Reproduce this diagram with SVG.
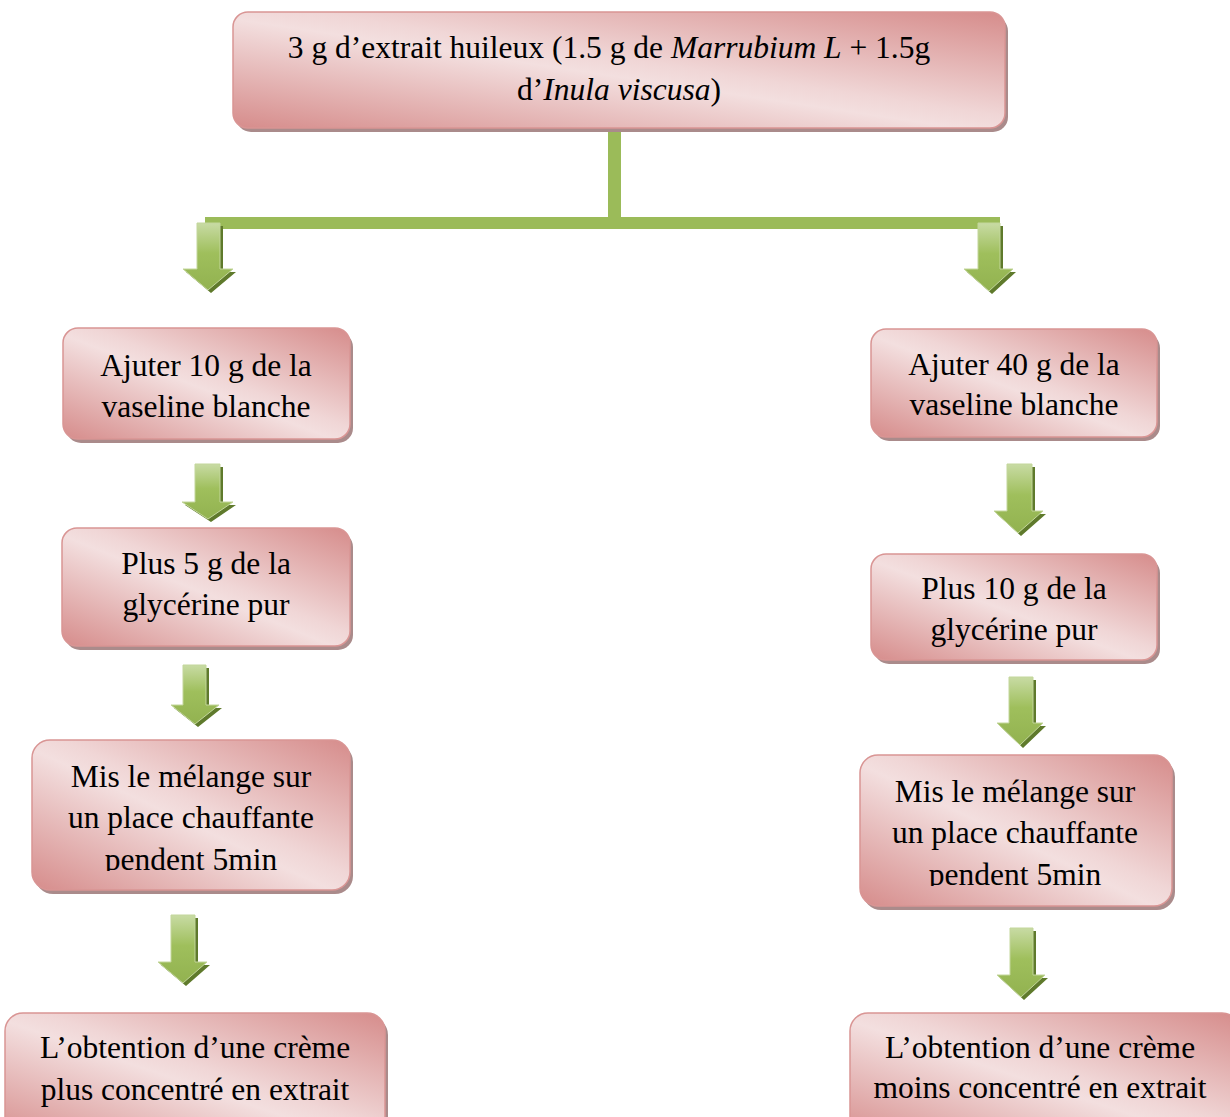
<svg xmlns="http://www.w3.org/2000/svg" width="1230" height="1117" viewBox="0 0 1230 1117">
<defs>
<linearGradient id="boxg" x1="0" y1="1" x2="1" y2="0">
<stop offset="0" stop-color="#d68c8b"/>
<stop offset="0.47" stop-color="#f3dfdf"/>
<stop offset="0.55" stop-color="#f0d6d6"/>
<stop offset="1" stop-color="#d68c8b"/>
</linearGradient>
<linearGradient id="arrg" x1="0" y1="0" x2="0" y2="1">
<stop offset="0" stop-color="#c8dba4"/>
<stop offset="0.45" stop-color="#9fbf5c"/>
<stop offset="1" stop-color="#92b250"/>
</linearGradient>
<linearGradient id="shaftg" x1="0" y1="0" x2="1" y2="0">
<stop offset="0" stop-color="#ffffff" stop-opacity="0.25"/>
<stop offset="0.5" stop-color="#ffffff" stop-opacity="0"/>
<stop offset="1" stop-color="#000000" stop-opacity="0.05"/>
</linearGradient>
<clipPath id="clipL3"><rect x="20" y="730" width="340" height="141"/></clipPath>
<clipPath id="clipR3"><rect x="850" y="745" width="330" height="141"/></clipPath>
</defs>
<style>
.box{fill:url(#boxg);stroke:#d99594;stroke-width:1.5}
.shadow{fill:#aa8b8b}
.t{font-family:"Liberation Serif","Times New Roman",serif;font-size:31.5px;fill:#000;text-anchor:middle}
.it{font-style:italic}
.arr{fill:url(#arrg);stroke:#c3d69b;stroke-width:1}
.arrs{fill:#5f7a2c}
.bar{fill:#9bbb59}
</style>

<g id="connectors">
<rect class="bar" x="608" y="125" width="13" height="98"/>
<rect class="bar" x="205" y="217" width="795" height="12"/>
<g id="arrow-L1">
<path class="arrs" d="M200,226 h23 v46 h13 l-25,21 l-25,-21 h14 z"/>
<path class="arr" d="M197,223 h23 v46 h13 l-25,21 l-25,-21 h14 z"/>
</g>
<g id="arrow-R1">
<path class="arrs" d="M981,226 h22 v46 h13 l-24,22 l-25,-22 h14 z"/>
<path class="arr" d="M978,223 h22 v46 h13 l-24,22 l-25,-22 h14 z"/>
</g>
<g id="arrow-L2">
<path class="arrs" d="M198,467 h25 v38 h13 l-25,17 l-26,-17 h13 z"/>
<path class="arr" d="M195,464 h25 v38 h13 l-25,17 l-26,-17 h13 z"/>
</g>
<g id="arrow-L3">
<path class="arrs" d="M186,668 h23 v40 h13 l-24,19 l-24,-19 h12 z"/>
<path class="arr" d="M183,665 h23 v40 h13 l-24,19 l-24,-19 h12 z"/>
</g>
<g id="arrow-L4">
<path class="arrs" d="M174,918 h24 v47 h12 l-24,21 l-25,-21 h13 z"/>
<path class="arr" d="M171,915 h24 v47 h12 l-24,21 l-25,-21 h13 z"/>
</g>
<g id="arrow-R2">
<path class="arrs" d="M1010,467 h25 v47 h11 l-25,22 l-24,-22 h13 z"/>
<path class="arr" d="M1007,464 h25 v47 h11 l-25,22 l-24,-22 h13 z"/>
</g>
<g id="arrow-R3">
<path class="arrs" d="M1012,680 h24 v46 h10 l-23,22 l-23,-22 h12 z"/>
<path class="arr" d="M1009,677 h24 v46 h10 l-23,22 l-23,-22 h12 z"/>
</g>
<g id="arrow-R4">
<path class="arrs" d="M1013,931 h23 v47 h12 l-24,22 l-24,-22 h13 z"/>
<path class="arr" d="M1010,928 h23 v47 h12 l-24,22 l-24,-22 h13 z"/>
</g>
</g>

<g id="node-top">
<rect class="shadow" x="236" y="16" width="772" height="116" rx="15"/>
<rect class="box" x="233" y="12" width="772" height="116" rx="15"/>
<text class="t" x="609" y="58">3 g d’extrait huileux (1.5 g de <tspan class="it">Marrubium L</tspan> + 1.5g</text>
<text class="t" x="619" y="100">d’<tspan class="it">Inula viscusa</tspan>)</text>
</g>

<g id="node-L1">
<rect class="shadow" x="66" y="332" width="287" height="111" rx="15"/>
<rect class="box" x="63" y="328" width="287" height="111" rx="15"/>
<text class="t" x="206" y="376">Ajuter 10 g de la</text>
<text class="t" x="206" y="417">vaseline blanche</text>
</g>

<g id="node-R1">
<rect class="shadow" x="874" y="333" width="286" height="108" rx="15"/>
<rect class="box" x="871" y="329" width="286" height="108" rx="15"/>
<text class="t" x="1014" y="375">Ajuter 40 g de la</text>
<text class="t" x="1014" y="415">vaseline blanche</text>
</g>

<g id="node-L2">
<rect class="shadow" x="65" y="532" width="288" height="118" rx="15"/>
<rect class="box" x="62" y="528" width="288" height="118" rx="15"/>
<text class="t" x="206" y="574">Plus 5 g de la</text>
<text class="t" x="206" y="615">glycérine pur</text>
</g>

<g id="node-R2">
<rect class="shadow" x="874" y="558" width="286" height="106" rx="15"/>
<rect class="box" x="871" y="554" width="286" height="106" rx="15"/>
<text class="t" x="1014" y="599">Plus 10 g de la</text>
<text class="t" x="1014" y="640">glycérine pur</text>
</g>

<g id="node-L3">
<rect class="shadow" x="35" y="744" width="318" height="150" rx="18"/>
<rect class="box" x="32" y="740" width="318" height="150" rx="18"/>
<g clip-path="url(#clipL3)">
<text class="t" x="191" y="787">Mis le mélange sur</text>
<text class="t" x="191" y="828">un place chauffante</text>
<text class="t" x="191" y="870">pendent 5min</text>
</g>
</g>

<g id="node-R3">
<rect class="shadow" x="863" y="759" width="312" height="151" rx="18"/>
<rect class="box" x="860" y="755" width="312" height="151" rx="18"/>
<g clip-path="url(#clipR3)">
<text class="t" x="1015" y="802">Mis le mélange sur</text>
<text class="t" x="1015" y="843">un place chauffante</text>
<text class="t" x="1015" y="885">pendent 5min</text>
</g>
</g>

<g id="node-L4">
<rect class="shadow" x="8" y="1017" width="380" height="130" rx="18"/>
<rect class="box" x="5" y="1013" width="380" height="130" rx="18"/>
<text class="t" x="195" y="1058">L’obtention d’une crème</text>
<text class="t" x="195" y="1100">plus concentré en extrait</text>
</g>

<g id="node-R4">
<rect class="shadow" x="853" y="1017" width="390" height="130" rx="18"/>
<rect class="box" x="850" y="1013" width="390" height="130" rx="18"/>
<text class="t" x="1040" y="1058">L’obtention d’une crème</text>
<text class="t" x="1040" y="1098">moins concentré en extrait</text>
</g>
</svg>
